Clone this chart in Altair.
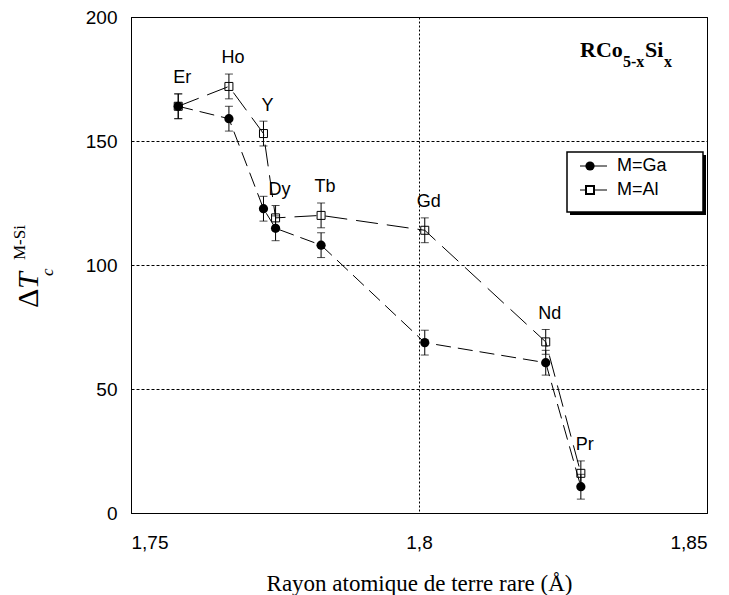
import altair as alt
import pandas as pd

# ---- data ----
elements = ["Er", "Ho", "Y", "Dy", "Tb", "Gd", "Nd", "Pr"]
radius = [1.7582, 1.7670, 1.7730, 1.7751, 1.7830, 1.8010, 1.8220, 1.8281]
dtc_ga = [164, 159, 122.7, 114.8, 108, 68.7, 60.6, 10.6]
dtc_al = [164, 172, 153, 119, 120, 114, 69, 16]
err_ga = [5, 5, 5, 5, 5, 5, 5, 5]
err_al = [5, 5, 5, 5, 5, 5, 5, 5]
series = ["M=Ga", "M=Al"]
x_ticks = [1.75, 1.8, 1.85]
y_ticks = [0, 50, 100, 150, 200]

rows = []
for i, el in enumerate(elements):
    rows.append({"el": el, "r": radius[i], "v": dtc_ga[i], "e": err_ga[i], "s": series[0]})
    rows.append({"el": el, "r": radius[i], "v": dtc_al[i], "e": err_al[i], "s": series[1]})
df = pd.DataFrame(rows)
lab = pd.DataFrame({"el": elements, "r": radius,
                    "top": [max(a, b) for a, b in zip(dtc_ga, dtc_al)]})

XS = alt.Scale(domain=[1.75, 1.85], nice=False, zero=False)
YS = alt.Scale(domain=[0, 200], nice=False)

x_axis = alt.Axis(values=x_ticks, format="~g", labelExpr="replace(datum.label, '.', ',')",
                  grid=True, gridDash=[2, 2], gridColor="black", gridOpacity=1,
                  domainColor="black", ticks=False, labelFont="Liberation Sans",
                  labelFontSize=19, labelColor="black", labelPadding=20,
                  title="Rayon atomique de terre rare (Å)", titleFont="Liberation Serif",
                  titleFontSize=23, titleFontWeight="normal", titleColor="black",
                  titleY=77, titleBaseline="alphabetic")
y_axis = alt.Axis(values=y_ticks, grid=True, gridDash=[3, 2], gridColor="black", gridOpacity=1,
                  domainColor="black", ticks=False, labelFont="Liberation Sans",
                  labelFontSize=19, labelColor="black", labelPadding=14, title=None)


def X():
    return alt.X("r:Q", scale=XS, axis=x_axis)


def Y(field="v:Q"):
    return alt.Y(field, scale=YS, axis=y_axis)


base = alt.Chart(df)

lines = base.mark_line(color="black", strokeWidth=1).encode(
    x=X(), y=Y(),
    strokeDash=alt.StrokeDash("s:N", scale=alt.Scale(domain=series, range=[[15, 7], [22, 9]]), legend=None),
    detail="s:N", order="r:Q")

eb = base.transform_calculate(lo="datum.v - datum.e", hi="datum.v + datum.e")
bars = eb.mark_rule(color="black", strokeWidth=1).encode(x=X(), y=Y("lo:Q"), y2="hi:Q")
cap_lo = eb.mark_tick(orient="horizontal", size=8, thickness=1, color="black").encode(x=X(), y=Y("lo:Q"))
cap_hi = eb.mark_tick(orient="horizontal", size=8, thickness=1, color="black").encode(x=X(), y=Y("hi:Q"))

al_pts = base.transform_filter(alt.datum.s == series[1]).mark_point(
    shape="square", filled=False, size=64, stroke="black", strokeWidth=1, opacity=1).encode(x=X(), y=Y())
ga_pts = base.transform_filter(alt.datum.s == series[0]).mark_point(
    shape="circle", filled=True, size=85, color="black", opacity=1).encode(x=X(), y=Y())

labels = alt.Chart(lab).mark_text(dx=4, dy=-28, font="Liberation Sans", fontSize=18,
                                  color="black").encode(x=X(), y=Y("top:Q"), text="el:N")

one = pd.DataFrame({"a": [0]})


def txt(s, x, y, size, font="Liberation Serif", style="normal", weight="normal", angle=0):
    kw = dict(font=font, fontSize=size, fontStyle=style, fontWeight=weight,
              align="left", baseline="alphabetic", color="black")
    if angle:
        kw["angle"] = angle
    return alt.Chart(one).mark_text(**kw).encode(x=alt.value(x), y=alt.value(y), text=alt.value(s))


ytitle = [
    txt("Δ", -93, 291, 30, angle=270),
    txt("T", -93, 272, 30, style="italic", angle=270),
    txt("c", -78, 259, 17, style="italic", angle=270),
    txt("M-Si", -106, 243, 17, angle=270),
]
ctitle = [
    txt("RCo", 449, 40, 22, weight="bold"),
    txt("5-x", 492, 50, 16, weight="bold"),
    txt("Si", 514, 40, 22, weight="bold"),
    txt("x", 533, 50, 16, weight="bold"),
]

# legend box with drop shadow
shadow = alt.Chart(one).mark_rect(color="black").encode(
    x=alt.value(439), x2=alt.value(575), y=alt.value(138), y2=alt.value(198))
box = alt.Chart(one).mark_rect(fill="white", stroke="black", strokeWidth=1.5).encode(
    x=alt.value(436), x2=alt.value(572), y=alt.value(135), y2=alt.value(195))
leg = []
for i, s in enumerate(series):
    yy = 149 + 24 * i
    leg.append(alt.Chart(one).mark_rule(color="black", strokeWidth=1).encode(
        x=alt.value(449), x2=alt.value(476), y=alt.value(yy)))
    if i == 0:
        leg.append(alt.Chart(one).mark_point(shape="circle", filled=True, size=85, color="black",
                                             opacity=1).encode(x=alt.value(459), y=alt.value(yy)))
    else:
        leg.append(alt.Chart(one).mark_point(shape="square", filled=False, size=64, stroke="black",
                                             fill="white", opacity=1).encode(x=alt.value(459), y=alt.value(yy)))
    leg.append(alt.Chart(one).mark_text(font="Liberation Sans", fontSize=18, align="left",
                                        baseline="middle", color="black").encode(
        x=alt.value(486), y=alt.value(yy), text=alt.value(s)))

chart = alt.layer(lines, bars, cap_lo, cap_hi, al_pts, ga_pts, labels,
                  *ytitle, *ctitle, shadow, box, *leg).properties(
    width=576, height=496,
    padding={"left": 123, "top": 9, "right": 14, "bottom": 85},
    autosize=alt.AutoSizeParams(type="none"),
).configure_view(stroke="black", strokeWidth=1)

chart.save("out.html", embed_options={"renderer": "svg", "actions": False})
